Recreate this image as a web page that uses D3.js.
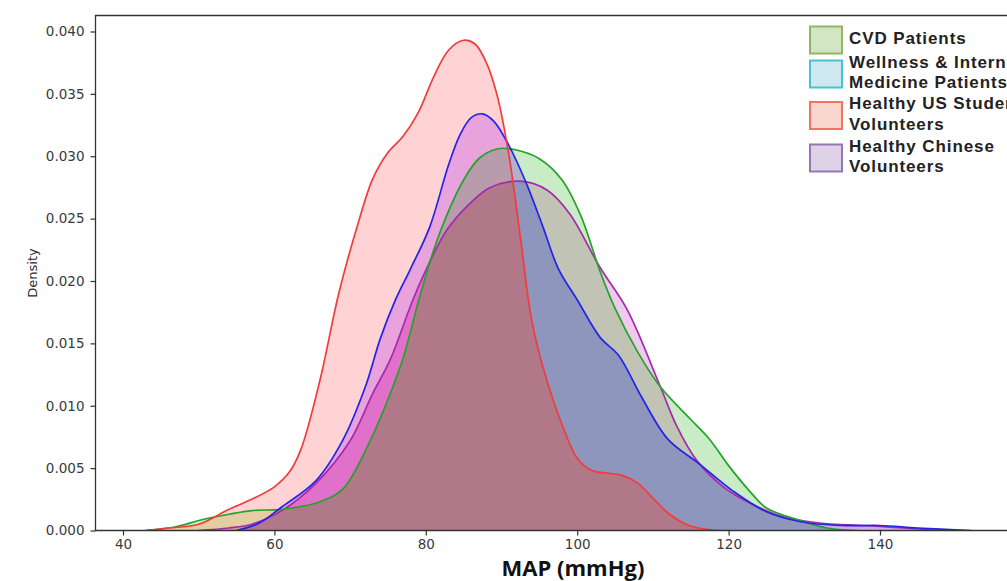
<!DOCTYPE html>
<html>
<head>
<meta charset="utf-8">
<script src="https://cdn.jsdelivr.net/npm/d3@7/dist/d3.min.js"></script>
<style>
    body { margin: 0; background: #fff; overflow: hidden; }
    svg { display: block; }
</style>
</head>
<body>
<svg id="chart" width="1007" height="581"></svg>
<script>
// values: [MAP, density]
var cvdPatients = [[43, 0], [47, 0.0003], [50, 0.0008], [54, 0.0013], [57, 0.0016], [61, 0.0017],
    [65.5, 0.0022], [69, 0.0033], [72.5, 0.0070], [75, 0.0105], [77, 0.0138], [79, 0.0183],
    [81, 0.0224], [83, 0.0256], [85, 0.0281], [87, 0.0298], [89.5, 0.0306], [92, 0.0305],
    [95, 0.0298], [98, 0.0281], [100.5, 0.0252], [103, 0.0208], [105, 0.0178], [108, 0.0143],
    [111, 0.0115], [115, 0.0089], [117.5, 0.0073], [120, 0.0052], [123, 0.0030], [125, 0.0018],
    [129.5, 0.0008], [133, 0.0002], [137, 0]];
var wellnessPatients = [[55, 0], [58, 0.0006], [61, 0.0019], [65.5, 0.0040], [69, 0.0072],
    [72, 0.0115], [74, 0.0154], [76, 0.0185], [78, 0.0210], [80.5, 0.0243], [83, 0.0293],
    [84.5, 0.0317], [86, 0.0331], [87.5, 0.0334], [89, 0.0328], [90.5, 0.0314], [92, 0.0296],
    [93.5, 0.0275], [95.5, 0.0243], [97.5, 0.0210], [100, 0.0185], [103, 0.0155], [105.5, 0.0140],
    [108.5, 0.0107], [112, 0.0073], [116, 0.0054], [120.5, 0.0032], [125, 0.0015], [129.5, 0.0007],
    [135, 0.0004], [140, 0.0004], [145, 0.0002], [152, 0]];
var usStudents = [[43, 0], [46, 0.0002], [50, 0.0005], [54, 0.0017], [57, 0.0025], [60, 0.0035],
    [62, 0.0047], [63.5, 0.0065], [66, 0.0120], [68.5, 0.0190], [71, 0.0245], [73, 0.0282],
    [75, 0.0303], [77, 0.0316], [79, 0.0335], [81, 0.0363], [83, 0.0385], [85, 0.0393],
    [86.5, 0.0390], [88, 0.0375], [89.5, 0.0347], [91, 0.0300], [92.5, 0.0235], [94, 0.0168],
    [96, 0.0120], [98, 0.0085], [100, 0.0058], [102, 0.0048], [104, 0.0046], [106, 0.0044],
    [108, 0.0038], [110, 0.0026], [112, 0.0014], [114, 0.0006], [116, 0.0002], [119, 0]];
var chineseVolunteers = [[50, 0], [54, 0.0002], [57, 0.0005], [61, 0.0016], [65.5, 0.0038],
    [70, 0.0072], [73, 0.0110], [75.3, 0.0137], [78.3, 0.0185], [80.5, 0.0215], [82.8, 0.0241],
    [85.8, 0.0262], [88.5, 0.0275], [92.4, 0.0280], [96, 0.0273], [99, 0.0254], [103, 0.0211],
    [106.6, 0.0177], [111, 0.0115], [113.2, 0.0083], [115.8, 0.0056], [119.3, 0.0035],
    [122.8, 0.0022], [127.2, 0.0011], [132, 0.0006], [138, 0.0004], [143, 0.0002], [148, 0]];

var legendLabels = [['CVD Patients'], ['Wellness & Internal', 'Medicine Patients'],
    ['Healthy US Student', 'Volunteers'], ['Healthy Chinese', 'Volunteers']];
var xTickValues = [40, 60, 80, 100, 120, 140];
var yTickValues = [0, 0.005, 0.010, 0.015, 0.020, 0.025, 0.030, 0.035, 0.040];

(function (d3) {
    'use strict';

    var svg = d3.select('#chart'),
        series = [cvdPatients, wellnessPatients, usStudents, chineseVolunteers],
        lineColors = ['#22a526', '#2424e8', '#f23c3c', '#a62aae'],
        patchFill = ['#d3e6c4', '#cde9ef', '#f9d6ce', '#ddd2e8'],
        patchStroke = ['#8fb565', '#45c3d3', '#f07363', '#9677b4'],
        // colour of each overlap, indexed by bitmask: 1 cvd, 2 wellness, 4 us, 8 chinese
        regionColors = [null, '#c9ecc6', '#d4d3f4', '#aeb3c9', '#ffd3d3', '#e6cca2', '#e8a2dc',
            '#b89cab', '#f0c9ee', '#c1c4b4', '#cfaee8', '#8e96bd', '#f0b0d8', '#d2a094',
            '#e070c9', '#b07888'],
        legendLineY = [38, 62, 82, 103, 124, 146, 166],
        left = 95.5,
        top = 15.5,
        bottom = 530.5,
        right = 1010,
        x = d3.scaleLinear().domain([40, 140]).range([123, 880]),
        y = d3.scaleLinear().domain([0, 0.04]).range([bottom, 31.5]),
        curve = d3.curveCatmullRom.alpha(0.5),
        area,
        line,
        defs = svg.append('defs'),
        regions,
        plot,
        mask;

    area = d3.area()
        .x(function (d) { return x(d[0]); })
        .y0(y(0))
        .y1(function (d) { return y(d[1]); })
        .curve(curve);
    line = d3.line()
        .x(function (d) { return x(d[0]); })
        .y(function (d) { return y(d[1]); })
        .curve(curve);

    defs.append('clipPath').attr('id', 'plot')
        .append('rect')
        .attr('x', left).attr('y', top)
        .attr('width', right - left).attr('height', bottom - top);

    series.forEach(function (s, i) {
        defs.append('clipPath').attr('id', 'in' + i)
            .append('path').attr('d', area(s));
        defs.append('clipPath').attr('id', 'out' + i)
            .append('path')
            .attr('clip-rule', 'evenodd')
            .attr('d', 'M0,0H1100V600H0Z' + area(s));
    });

    plot = svg.append('g').attr('clip-path', 'url(#plot)');
    regions = plot.append('g');
    for (mask = 1; mask < 16; mask += 1) {
        var g = regions, i;
        for (i = 0; i < 4; i += 1) {
            g = g.append('g')
                .attr('clip-path', 'url(#' + ((mask >> i) & 1 ? 'in' : 'out') + i + ')');
        }
        g.append('rect')
            .attr('x', left).attr('y', top)
            .attr('width', right - left).attr('height', bottom - top)
            .attr('fill', regionColors[mask]);
    }

    // purple first so the others sit on top, as in the source
    [3, 0, 1, 2].forEach(function (i) {
        plot.append('path')
            .attr('d', line(series[i]))
            .attr('fill', 'none')
            .attr('stroke', lineColors[i])
            .attr('stroke-width', 1.7);
    });

    // spines
    svg.append('path')
        .attr('d', 'M' + right + ',' + top + 'H' + left + 'V' + bottom + 'H' + right)
        .attr('fill', 'none')
        .attr('stroke', '#333')
        .attr('stroke-width', 1.3);

    function styleAxis(ax) {
        ax.select('.domain').remove();
        ax.selectAll('line').attr('stroke', '#333').attr('stroke-width', 1.2);
        ax.selectAll('text').attr('font-family', 'DejaVu Sans').attr('font-size', 13.5)
            .attr('fill', '#3a3a3a');
    }

    svg.append('g')
        .attr('transform', 'translate(0,' + bottom + ')')
        .call(d3.axisBottom(x).tickValues(xTickValues).tickSize(5).tickPadding(4))
        .call(styleAxis);
    svg.append('g')
        .attr('transform', 'translate(' + left + ',0)')
        .call(d3.axisLeft(y).tickValues(yTickValues).tickFormat(d3.format('.3f')).tickSize(5).tickPadding(6))
        .call(styleAxis);

    svg.append('text')
        .attr('transform', 'translate(37,' + ((top + bottom) / 2) + ') rotate(-90)')
        .attr('text-anchor', 'middle')
        .attr('font-family', 'DejaVu Sans')
        .attr('font-size', 13)
        .attr('fill', '#2a2a2a')
        .text('Density');
    svg.append('text')
        .attr('x', 573).attr('y', 576)
        .attr('text-anchor', 'middle')
        .attr('font-family', 'Open Sans')
        .attr('font-weight', 700)
        .attr('font-size', 22)
        .attr('fill', '#111')
        .text('MAP (mmHg)');

    // legend
    var lineNo = 0,
        legend = svg.append('g').attr('font-family', 'Liberation Sans')
            .attr('font-weight', 700).attr('font-size', 17).attr('fill', '#222');
    legendLabels.forEach(function (lines, i) {
        var centers = lines.map(function (t, k) { return legendLineY[lineNo + k]; }),
            mid = d3.mean(centers) + 2;
        legend.append('rect')
            .attr('x', 810).attr('y', mid - 13.5)
            .attr('width', 32).attr('height', 27)
            .attr('fill', patchFill[i])
            .attr('stroke', patchStroke[i])
            .attr('stroke-width', 2);
        lines.forEach(function (t, k) {
            legend.append('text')
                .attr('x', 849).attr('y', centers[k] + 6)
                .attr('letter-spacing', 0.9)
                .text(t);
        });
        lineNo += lines.length;
    });
}(window.d3));
</script>
</body>
</html>
